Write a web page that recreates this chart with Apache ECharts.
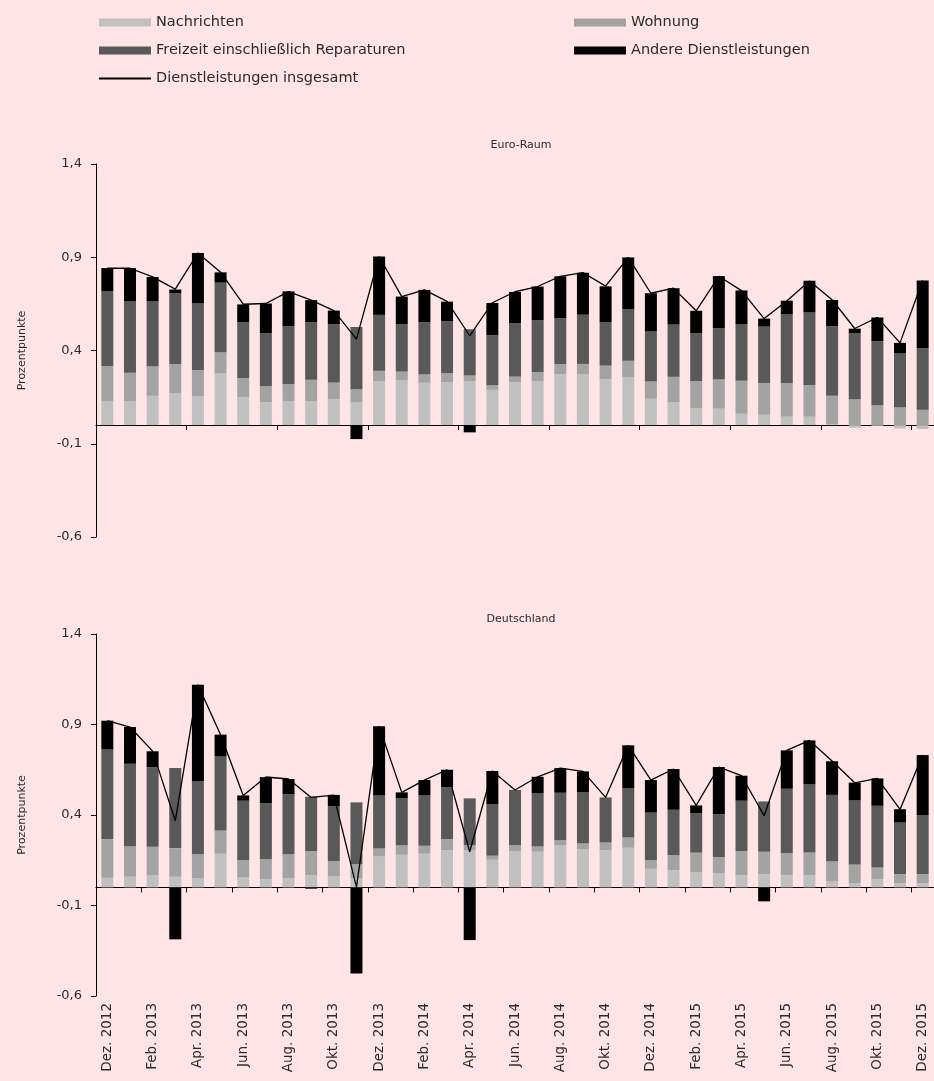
<!DOCTYPE html>
<html>
<head>
<meta charset="utf-8">
<script src="https://cdn.jsdelivr.net/npm/echarts@6/dist/echarts.min.js"></script>
<style>
  html, body { margin: 0; padding: 0; background: #fee4e6; }
  #chart { width: 934px; height: 1081px; }
</style>
</head>
<body>
<div id="chart"></div>
<script>
const months = ["Dez. 2012","Jan. 2013","Feb. 2013","Mrz. 2013","Apr. 2013","Mai 2013","Jun. 2013","Jul. 2013","Aug. 2013","Sep. 2013","Okt. 2013","Nov. 2013",
  "Dez. 2013","Jan. 2014","Feb. 2014","Mrz. 2014","Apr. 2014","Mai 2014","Jun. 2014","Jul. 2014","Aug. 2014","Sep. 2014","Okt. 2014","Nov. 2014",
  "Dez. 2014","Jan. 2015","Feb. 2015","Mrz. 2015","Apr. 2015","Mai 2015","Jun. 2015","Jul. 2015","Aug. 2015","Sep. 2015","Okt. 2015","Nov. 2015","Dez. 2015"];

// Euro-Raum
const euNachrichten = [0.129,0.129,0.157,0.171,0.155,0.277,0.150,0.123,0.129,0.129,0.139,0.121,0.236,0.241,0.227,0.230,0.236,0.189,0.230,0.236,0.273,0.271,0.246,0.257,0.141,0.123,0.091,0.088,0.061,0.055,0.045,0.045,0.005,-0.014,-0.004,-0.018,-0.021];
const euWohnung = [0.188,0.152,0.159,0.155,0.141,0.114,0.102,0.086,0.091,0.114,0.089,0.071,0.055,0.046,0.045,0.048,0.030,0.025,0.030,0.048,0.054,0.057,0.073,0.088,0.093,0.136,0.145,0.157,0.177,0.171,0.179,0.170,0.152,0.139,0.107,0.095,0.082];
const euFreizeit = [0.402,0.384,0.348,0.380,0.357,0.373,0.300,0.284,0.311,0.309,0.313,0.334,0.300,0.254,0.280,0.279,0.248,0.268,0.286,0.279,0.246,0.264,0.234,0.277,0.268,0.280,0.257,0.275,0.304,0.302,0.370,0.391,0.373,0.355,0.343,0.289,0.330];
const euAndere = [0.123,0.177,0.130,0.021,0.270,0.055,0.095,0.159,0.186,0.118,0.073,-0.075,0.313,0.148,0.173,0.105,-0.039,0.173,0.168,0.180,0.225,0.225,0.191,0.277,0.205,0.195,0.120,0.279,0.180,0.043,0.073,0.168,0.141,0.023,0.127,0.057,0.364];
const euGesamt = [0.841,0.841,0.795,0.729,0.923,0.820,0.648,0.652,0.716,0.670,0.614,0.461,0.904,0.689,0.725,0.663,0.479,0.656,0.715,0.743,0.798,0.818,0.745,0.899,0.707,0.734,0.613,0.798,0.721,0.571,0.666,0.773,0.672,0.518,0.577,0.441,0.777];

// Deutschland
const deNachrichten = [0.053,0.059,0.066,0.059,0.050,0.186,0.055,0.046,0.052,0.068,0.061,0.050,0.171,0.180,0.186,0.206,0.206,0.153,0.199,0.197,0.232,0.212,0.206,0.219,0.103,0.096,0.083,0.079,0.068,0.074,0.068,0.068,0.035,0.024,0.046,0.024,0.024];
const deWohnung = [0.214,0.169,0.158,0.158,0.133,0.129,0.096,0.110,0.131,0.133,0.085,0.079,0.044,0.052,0.044,0.061,0.028,0.022,0.035,0.029,0.029,0.031,0.042,0.057,0.048,0.083,0.109,0.088,0.133,0.123,0.122,0.125,0.110,0.103,0.064,0.050,0.050];
const deFreizeit = [0.497,0.455,0.440,0.442,0.405,0.409,0.328,0.309,0.333,0.300,0.302,0.341,0.293,0.262,0.278,0.287,0.258,0.284,0.302,0.295,0.262,0.284,0.249,0.271,0.262,0.250,0.217,0.238,0.278,0.278,0.355,0.378,0.366,0.354,0.341,0.284,0.326];
const deAndere = [0.157,0.203,0.088,-0.287,0.532,0.120,0.029,0.144,0.083,-0.007,0.063,-0.475,0.383,0.031,0.085,0.096,-0.291,0.184,0.002,0.090,0.136,0.114,0.000,0.238,0.180,0.225,0.044,0.260,0.138,-0.077,0.212,0.241,0.186,0.098,0.151,0.074,0.331];
const deGesamt = [0.921,0.886,0.753,0.368,1.120,0.843,0.508,0.610,0.599,0.497,0.510,0.002,0.891,0.525,0.593,0.650,0.197,0.643,0.538,0.611,0.659,0.641,0.497,0.785,0.593,0.654,0.453,0.665,0.617,0.396,0.757,0.812,0.698,0.578,0.602,0.431,0.731];

const FONT = "DejaVu Sans";
const TXT = "#2b2b2b";
const COLORS = {
  "Nachrichten": "#c0c0c0",
  "Wohnung": "#a3a3a3",
  "Freizeit einschließlich Reparaturen": "#595959",
  "Andere Dienstleistungen": "#000000",
};

function panelSeries(idx, xIdx, nach, wohn, frei, andere, gesamt) {
  const stack = "s" + idx;
  const bars = [
    ["Nachrichten", nach],
    ["Wohnung", wohn],
    ["Freizeit einschließlich Reparaturen", frei],
    ["Andere Dienstleistungen", andere],
  ].map(([name, data]) => ({
    name,
    type: "bar",
    stack,
    xAxisIndex: xIdx,
    yAxisIndex: idx,
    data,
    barWidth: 12,
    itemStyle: { color: COLORS[name] },
    emphasis: { disabled: true },
  }));
  bars.push({
    name: "Dienstleistungen insgesamt",
    type: "line",
    xAxisIndex: xIdx,
    yAxisIndex: idx,
    data: gesamt,
    symbol: "none",
    lineStyle: { color: "#000", width: 1.3 },
    itemStyle: { color: "#000" },
    z: 5,
  });
  return bars;
}

function yAxisFor(gridIndex) {
  return {
    type: "value",
    gridIndex,
    min: -0.6,
    max: 1.4,
    interval: 0.5,
    name: "Prozentpunkte",
    nameLocation: "middle",
    nameGap: 68,
    nameTextStyle: { fontFamily: FONT, fontSize: 11, color: TXT },
    axisLine: { show: true, lineStyle: { color: "#000", width: 1 } },
    axisTick: { show: true, length: 5, lineStyle: { color: "#000" } },
    splitLine: { show: false },
    axisLabel: {
      fontFamily: FONT, fontSize: 13, color: TXT, margin: 14,
      formatter: (v) => v.toFixed(1).replace(".", ","),
    },
  };
}

const legendText = { fontFamily: FONT, fontSize: 14.5, color: TXT };

const option = {
  backgroundColor: "#fee4e6",
  animation: false,
  title: [
    { text: "Euro-Raum", left: 516, top: 135, textAlign: "center",
      textStyle: { fontFamily: FONT, fontSize: 11, fontWeight: "normal", color: TXT } },
    { text: "Deutschland", left: 516, top: 609, textAlign: "center",
      textStyle: { fontFamily: FONT, fontSize: 11, fontWeight: "normal", color: TXT } },
  ],
  legend: [
    {
      left: 98, top: 15, padding: 0, orient: "vertical", itemWidth: 52, itemHeight: 8, itemGap: 13,
      textStyle: legendText, selectedMode: false,
      data: [
        { name: "Nachrichten", icon: "rect" },
        { name: "Freizeit einschließlich Reparaturen", icon: "rect" },
        { name: "Dienstleistungen insgesamt", itemStyle: { opacity: 0 } },
      ],
    },
    {
      left: 574, top: 15, padding: 0, orient: "vertical", itemWidth: 52, itemHeight: 8, itemGap: 13,
      textStyle: legendText, selectedMode: false,
      data: [
        { name: "Wohnung", icon: "rect" },
        { name: "Andere Dienstleistungen", icon: "rect" },
      ],
    },
  ],
  grid: [
    { left: 96, top: 164, width: 840, height: 373, containLabel: false },
    { left: 96, top: 634, width: 840, height: 362, containLabel: false },
  ],
  xAxis: [
    {
      type: "category", gridIndex: 0, data: months, position: "bottom",
      axisLine: { onZero: true, lineStyle: { color: "#000", width: 1.2 } },
      axisTick: { show: true, interval: 3, length: 5, lineStyle: { color: "#000" } },
      axisLabel: { show: false },
    },
    {
      type: "category", gridIndex: 1, data: months, position: "bottom",
      axisLine: { onZero: true, lineStyle: { color: "#000", width: 1.2 } },
      axisTick: { show: true, interval: 1, length: 5, lineStyle: { color: "#000" } },
      axisLabel: { show: false },
    },
    {
      type: "category", gridIndex: 1, data: months, position: "bottom",
      axisLine: { show: false, onZero: false },
      axisTick: { show: false },
      axisLabel: { show: true, interval: 1, rotate: 90, margin: 7,
        fontFamily: FONT, fontSize: 13.5, color: TXT },
    },
  ],
  yAxis: [yAxisFor(0), yAxisFor(1)],
  series: [
    ...panelSeries(0, 0, euNachrichten, euWohnung, euFreizeit, euAndere, euGesamt),
    ...panelSeries(1, 1, deNachrichten, deWohnung, deFreizeit, deAndere, deGesamt),
  ],
};

const chart = echarts.init(document.getElementById("chart"), null, { renderer: "canvas" });
chart.setOption(option);
</script>
</body>
</html>
